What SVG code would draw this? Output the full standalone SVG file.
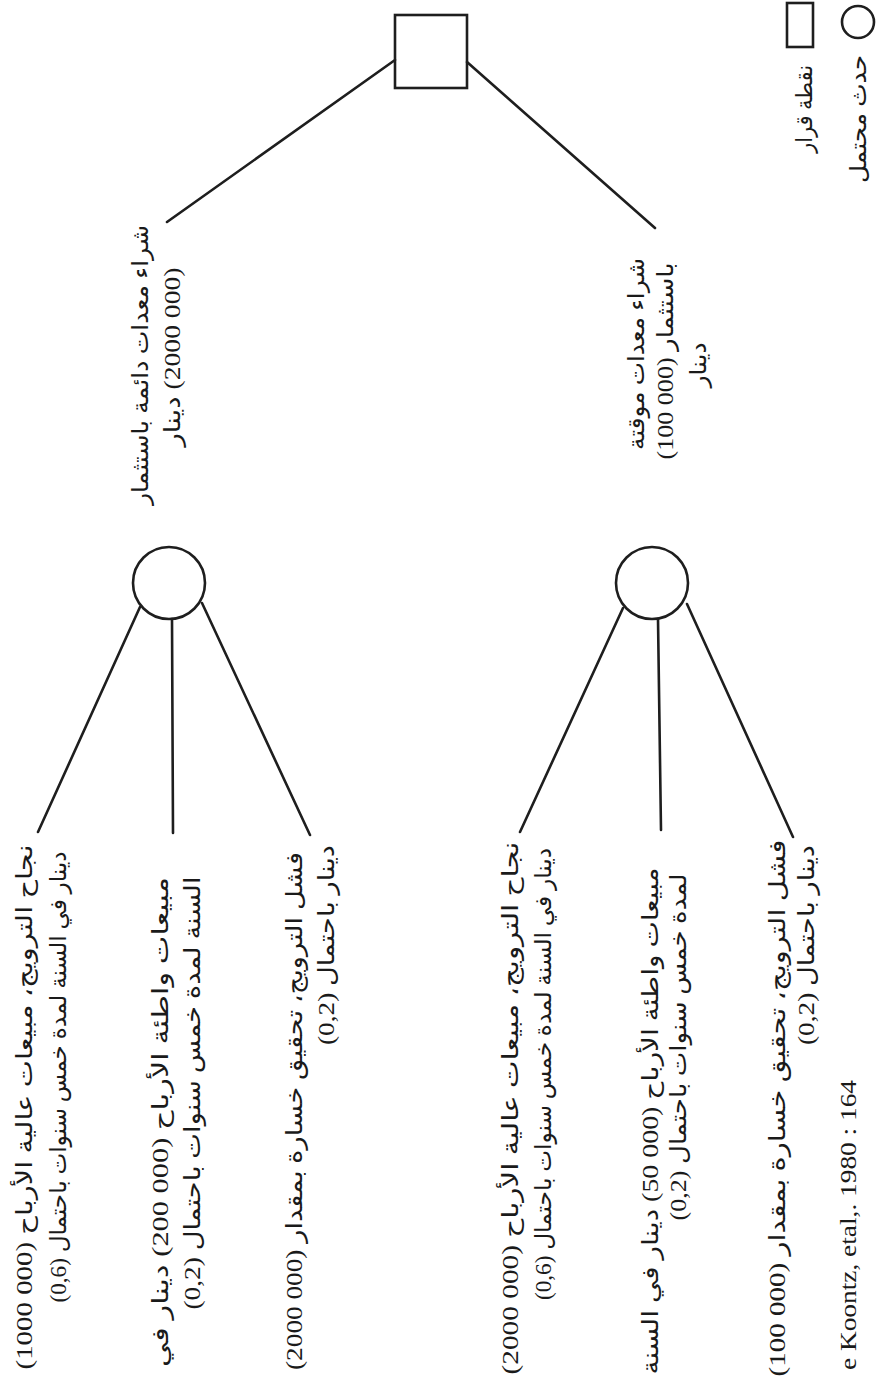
<svg xmlns="http://www.w3.org/2000/svg" width="876" height="1378" viewBox="0 0 876 1378">
<style>
.bg{fill:#ffffff}
.shape{fill:none;stroke:#1e1e1e;stroke-width:2.6}
.line{stroke:#1e1e1e;stroke-width:2.6;stroke-linecap:round;fill:none}
.t{font-family:"Liberation Serif","DejaVu Sans",serif;font-size:23px;fill:#1a1a1a;text-anchor:middle;direction:rtl}
.src{font-family:"Liberation Serif",serif;font-size:23px;fill:#1a1a1a;text-anchor:middle}
</style>
<rect class="bg" x="0" y="0" width="876" height="1378"/>

<g id="connectors">
  <line class="line" x1="395" y1="60" x2="167" y2="222"/>
  <line class="line" x1="467" y1="62" x2="655" y2="228"/>
  <line class="line" x1="140" y1="607" x2="38" y2="832"/>
  <line class="line" x1="172" y1="619" x2="173" y2="833"/>
  <line class="line" x1="202" y1="603" x2="310" y2="835"/>
  <line class="line" x1="623" y1="608" x2="520" y2="832"/>
  <line class="line" x1="658" y1="619" x2="661" y2="830"/>
  <line class="line" x1="687" y1="604" x2="793" y2="837"/>
</g>

<g id="decision">
  <rect class="shape" x="395" y="15" width="72" height="73"/>
</g>

<g id="branch-permanent">
  <text class="t" transform="translate(140,365) rotate(-90)" x="0" y="8" textLength="280" lengthAdjust="spacingAndGlyphs">شراء معدات دائمة باستثمار</text>
  <text class="t" transform="translate(172,357) rotate(-90)" x="0" y="8" textLength="179" lengthAdjust="spacingAndGlyphs">(2000&#160;000) دينار</text>
</g>

<g id="branch-temporary">
  <text class="t" transform="translate(636,354) rotate(-90)" x="0" y="8" textLength="192" lengthAdjust="spacingAndGlyphs">شراء معدات موقتة</text>
  <text class="t" transform="translate(665,361) rotate(-90)" x="0" y="8" textLength="197" lengthAdjust="spacingAndGlyphs">باستثمار (100&#160;000)</text>
  <text class="t" transform="translate(698,365) rotate(-90)" x="0" y="8" textLength="45" lengthAdjust="spacingAndGlyphs">دينار</text>
</g>

<g id="event-1">
  <circle class="shape" cx="169" cy="583" r="36"/>
</g>

<g id="event-2">
  <circle class="shape" cx="652" cy="583" r="36"/>
</g>

<g id="outcome-1a">
  <text class="t" transform="translate(24,1107) rotate(-90)" x="0" y="8" textLength="525" lengthAdjust="spacingAndGlyphs">نجاح الترويج، مبيعات عالية الأرباح (1000&#160;000)</text>
  <text class="t" transform="translate(58,1077) rotate(-90)" x="0" y="8" textLength="451" lengthAdjust="spacingAndGlyphs">دينار في السنة لمدة خمس سنوات باحتمال (0,6)</text>
</g>
<g id="outcome-1b">
  <text class="t" transform="translate(160,1122) rotate(-90)" x="0" y="8" textLength="490" lengthAdjust="spacingAndGlyphs">مبيعات واطئة  الأرباح (200&#160;000) دينار في</text>
  <text class="t" transform="translate(192,1093) rotate(-90)" x="0" y="8" textLength="433" lengthAdjust="spacingAndGlyphs">السنة لمدة خمس سنوات باحتمال (0,2)</text>
</g>
<g id="outcome-1c">
  <text class="t" transform="translate(294,1111) rotate(-90)" x="0" y="8" textLength="518" lengthAdjust="spacingAndGlyphs">فشل الترويج، تحقيق خسارة بمقدار (2000&#160;000)</text>
  <text class="t" transform="translate(326,945) rotate(-90)" x="0" y="8" textLength="200" lengthAdjust="spacingAndGlyphs">دينار باحتمال (0,2)</text>
</g>

<g id="outcome-2a">
  <text class="t" transform="translate(510,1108) rotate(-90)" x="0" y="8" textLength="533" lengthAdjust="spacingAndGlyphs">نجاح الترويج، مبيعات عالية الأرباح (2000&#160;000)</text>
  <text class="t" transform="translate(543,1074) rotate(-90)" x="0" y="8" textLength="452" lengthAdjust="spacingAndGlyphs">دينار في السنة لمدة خمس سنوات باحتمال (0,6)</text>
</g>
<g id="outcome-2b">
  <text class="t" transform="translate(650,1121) rotate(-90)" x="0" y="8" textLength="507" lengthAdjust="spacingAndGlyphs">مبيعات واطئة  الأرباح (50&#160;000) دينار في السنة</text>
  <text class="t" transform="translate(678,1047) rotate(-90)" x="0" y="8" textLength="347" lengthAdjust="spacingAndGlyphs">لمدة خمس سنوات باحتمال (0,2)</text>
</g>
<g id="outcome-2c">
  <text class="t" transform="translate(777,1108) rotate(-90)" x="0" y="8" textLength="537" lengthAdjust="spacingAndGlyphs">فشل الترويج، تحقيق خسارة بمقدار (100&#160;000)</text>
  <text class="t" transform="translate(806,945) rotate(-90)" x="0" y="8" textLength="200" lengthAdjust="spacingAndGlyphs">دينار باحتمال (0,2)</text>
</g>

<g id="legend">
  <rect class="shape" x="787" y="3" width="26" height="44"/>
  <circle class="shape" cx="858" cy="22" r="16"/>
  <text class="t" transform="translate(804,109) rotate(-90)" x="0" y="8" textLength="88" lengthAdjust="spacingAndGlyphs">نقطة قرار</text>
  <text class="t" transform="translate(858,119) rotate(-90)" x="0" y="8" textLength="128" lengthAdjust="spacingAndGlyphs">حدث محتمل</text>
</g>

<g id="source">
  <text class="src" transform="translate(848,1225) rotate(-90)" x="0" y="8" textLength="290" lengthAdjust="spacingAndGlyphs">e  Koontz, etal,. 1980 : 164</text>
</g>
</svg>
